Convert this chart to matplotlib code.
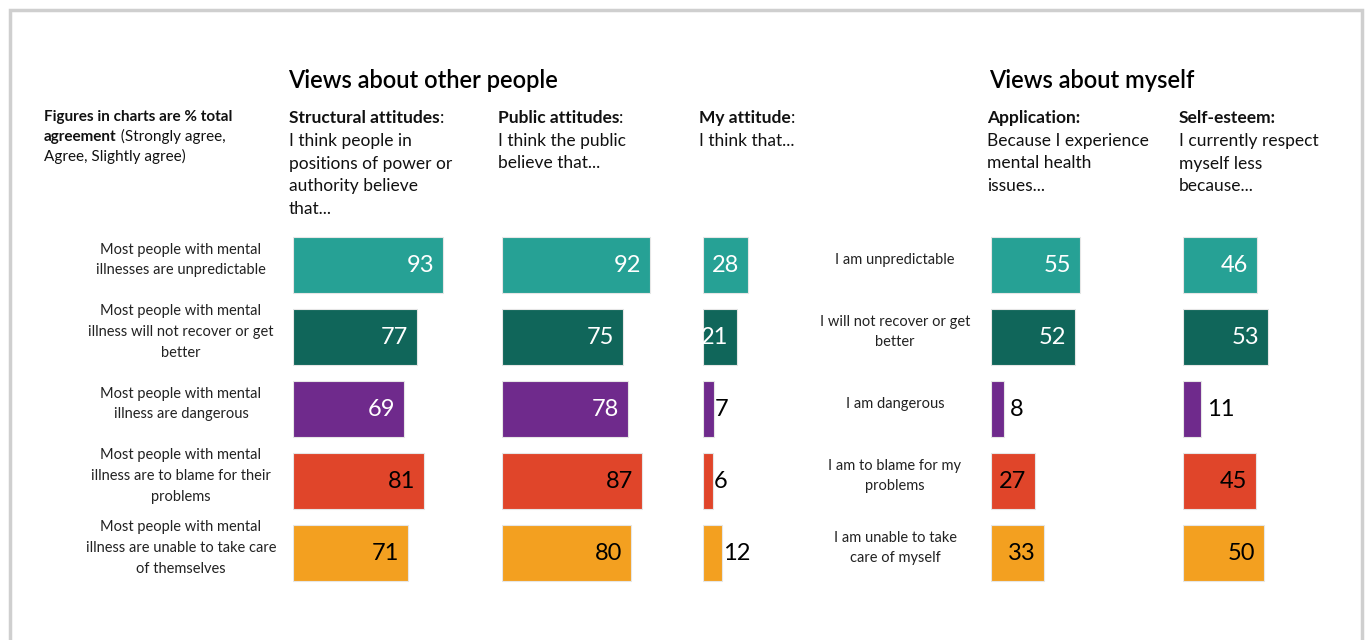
import matplotlib.pyplot as plt
from matplotlib.patches import Rectangle

plt.rcParams['font.family'] = ['Lato', 'DejaVu Sans']

# Dados (% concordância total)
itens_outros = [
    "Most people with mental\nillnesses are unpredictable",
    "Most people with mental\nillness will not recover or get\nbetter",
    "Most people with mental\nillness are dangerous",
    "Most people with mental\nillness are to blame for their\nproblems",
    "Most people with mental\nillness are unable to take care\nof themselves",
]
itens_eu = [
    "I am unpredictable",
    "I will not recover or get\nbetter",
    "I am dangerous",
    "I am to blame for my\nproblems",
    "I am unable to take\ncare of myself",
]
estrutural = [93, 77, 69, 81, 71]
publico = [92, 75, 78, 87, 80]
minha_atitude = [28, 21, 7, 6, 12]
aplicacao = [55, 52, 8, 27, 33]
autoestima = [46, 53, 11, 45, 50]

titulos_paineis = [
    ("Structural attitudes", ":", "I think people in\npositions of power or\nauthority believe\nthat..."),
    ("Public attitudes", ":", "I think the public\nbelieve that..."),
    ("My attitude", ":", "I think that..."),
    ("Application:", "", "Because I experience\nmental health\nissues..."),
    ("Self-esteem:", "", "I currently respect\nmyself less\nbecause..."),
]

cores = ['#26a195', '#10665a', '#6f2a8c', '#e0452a', '#f3a020']
cores_texto = ['white', 'white', 'white', 'black', 'black']

W, H = 1370, 640
fig = plt.figure(figsize=(W / 100, H / 100), dpi=100)
fig.patch.set_facecolor('white')

# Moldura cinza
fig.patches.append(Rectangle((10 / W, -0.1), 1352 / W, 1.1 - 10 / H, transform=fig.transFigure,
                             fill=False, edgecolor='#cfcfcf', linewidth=2.5))


def px(x, y):
    return x / W, 1 - y / H


def texto_misto(x, y, partes, size):
    # escreve pedaços com pesos diferentes na mesma linha de base
    r = fig.canvas.get_renderer()
    for txt, peso in partes:
        t = fig.text(*px(x, y), txt, fontsize=size, fontweight=peso, va='baseline', ha='left',
                     color='#111111')
        x += t.get_window_extent(renderer=r).width


# Títulos principais
fig.text(*px(288, 88), "Views about other people", fontsize=17, fontweight='semibold', va='baseline')
fig.text(*px(989, 88), "Views about myself", fontsize=17, fontweight='semibold', va='baseline')

# Nota à esquerda
texto_misto(44, 121, [("Figures in charts are % total", 'bold')], 11)
texto_misto(44, 141, [("agreement", 'bold'), (" (Strongly agree,", 'normal')], 11)
texto_misto(44, 161, [("Agree, Slightly agree)", 'normal')], 11)

series = [estrutural, publico, minha_atitude, aplicacao, autoestima]
esquerdas = [293, 502, 703, 991, 1183]
escala = 1.613  # px por ponto percentual

for i, (valores, x0) in enumerate(zip(series, esquerdas)):
    negrito, resto, subtitulo = titulos_paineis[i]
    texto_misto(x0 - 4, 123, [(negrito, 'bold'), (resto, 'normal')], 12.5)
    fig.text(*px(x0 - 4, 133), subtitulo, fontsize=12.5, va='top', ha='left', linespacing=1.5,
             color='#111111')

    ax = fig.add_axes([x0 / W, 1 - 589 / H, 100 * escala / W, 360 / H])
    ax.set_xlim(0, 100)
    ax.set_ylim(4.5, -0.5)
    ax.axis('off')
    pos = list(range(len(valores)))
    ax.barh(pos, valores, height=0.79, color=cores, edgecolor='#e6e6e6', linewidth=0.8)
    for j, v in enumerate(valores):
        if v >= 20:
            ax.text(v - 5.5, j, str(v), ha='right', va='center', fontsize=17, color=cores_texto[j])
        else:
            gap = 0.5 if i == 2 else 4
            ax.text(v + gap, j, str(v), ha='left', va='center', fontsize=17, color='black')

# Rótulos das linhas
for j in range(5):
    yc = 265 + 72 * j - 5
    fig.text(*px(181, yc), itens_outros[j], fontsize=10.5, ha='center', va='center',
             linespacing=1.6, color='#222222')
    fig.text(*px(895, yc), itens_eu[j], fontsize=10.5, ha='center', va='center',
             linespacing=1.6, color='#222222')

fig.savefig('out.png', dpi=100)
